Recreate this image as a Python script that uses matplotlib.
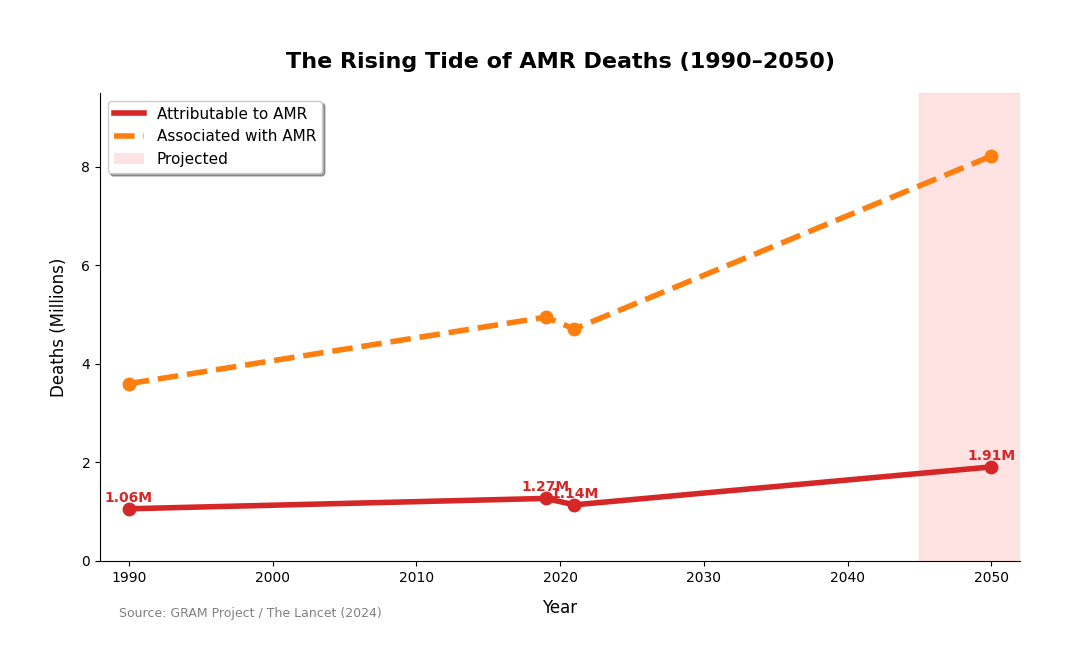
import matplotlib
matplotlib.use("Agg")
import matplotlib.pyplot as plt
from matplotlib.lines import Line2D
from matplotlib.patches import Patch

years = [1990, 2019, 2021, 2050]
attributable = [1.06, 1.27, 1.14, 1.91]
associated = [3.60, 4.95, 4.71, 8.22]
labels = ["1.06M", "1.27M", "1.14M", "1.91M"]

fig = plt.figure(figsize=(10.7, 6.7), dpi=100)
ax = fig.add_axes([100/1070, 1-561/670, 920/1070, 468/670])

ax.axvspan(2045, 2052, color="#ffcccc", alpha=0.55, zorder=0)
ax.plot(years, attributable, color="#d62728", lw=4, marker="o", ms=9, zorder=3)
ax.plot(years, associated, color="#ff7f0e", lw=4, ls="--", marker="o", ms=9, zorder=3)
for x, y, t in zip(years, attributable, labels):
    ax.annotate(t, (x, y), xytext=(0, 3), textcoords="offset points", ha="center", va="bottom",
                color="#d62728", fontweight="bold", fontsize=10)

ax.set_xlim(1988, 2052)
ax.set_ylim(0, 9.5)
ax.set_yticks([0, 2, 4, 6, 8])
ax.set_xticks(range(1990, 2051, 10))
ax.spines["top"].set_visible(False)
ax.spines["right"].set_visible(False)
ax.set_xlabel("Year", fontsize=12, labelpad=10)
ax.set_ylabel("Deaths (Millions)", fontsize=12, labelpad=10)
ax.set_title("The Rising Tide of AMR Deaths (1990–2050)", fontsize=16, fontweight="bold", pad=18)

handles = [Line2D([], [], color="#d62728", lw=4),
           Line2D([], [], color="#ff7f0e", lw=4, ls="--"),
           Patch(facecolor="#ffcccc", alpha=0.55)]
ax.legend(handles, ["Attributable to AMR", "Associated with AMR", "Projected"], loc="upper left",
          fontsize=11, shadow=True, frameon=True)
fig.text(119/1070, 1-614/670, "Source: GRAM Project / The Lancet (2024)", fontsize=9, color="gray", va="center")
fig.savefig("out.png", dpi=100)
